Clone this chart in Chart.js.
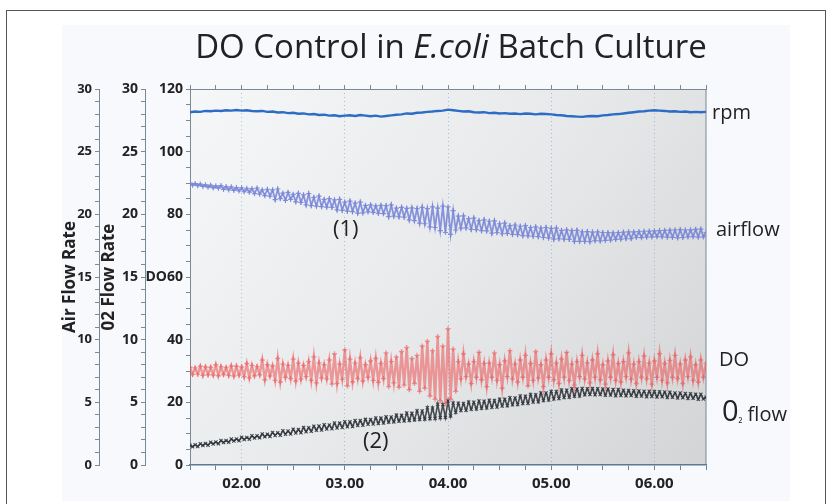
<!DOCTYPE html>
<html>
<head>
<meta charset="utf-8">
<script src="https://cdn.jsdelivr.net/npm/chart.js@4.4.1/dist/chart.umd.min.js"></script>
<style>
  body { margin: 0; background: #fff; }
  #wrap { position: relative; width: 833px; height: 504px; overflow: hidden; font-family: 'Open Sans', sans-serif; color: #222; }
  #frame { position: absolute; left: 6px; top: 10px; width: 818px; height: 520px; border: 1.5px solid #555; }
  #panel { position: absolute; left: 62px; top: 25px; width: 728px; height: 476px; background: #f7f9fc; }
  #myChart { position: absolute; left: 0; top: 0; }
  .lbl { position: absolute; white-space: nowrap; line-height: 1; }
  #title { position: absolute; left: 150px; width: 602px; top: 26px; text-align: center; font-size: 33px; line-height: 40px; }
</style>
</head>
<body>
<div id="wrap">
  <div id="frame"></div>
  <div id="panel"></div>
  <canvas id="myChart" width="833" height="504"></canvas>
  <div id="title">DO Control in <i>E.coli</i> Batch Culture</div>
  <div class="lbl" style="left:712px;top:102px;font-size:20px">rpm</div>
  <div class="lbl" style="left:716px;top:219px;font-size:20px">airflow</div>
  <div class="lbl" style="left:719px;top:349px;font-size:20px">DO</div>
  <div class="lbl" style="left:722px;top:395px;font-size:29px">0<span style="font-size:11px">₂</span><span style="font-size:20px"> flow</span></div>
  <div class="lbl" style="left:333px;top:216px;font-size:22px">(1)</div>
  <div class="lbl" style="left:363px;top:428px;font-size:22px">(2)</div>
</div>
<script>
// hourly axis, samples every 3 min for rpm and every 1.5 min for the noisy signals
let times = [
  1.50, 1.55, 1.60, 1.65, 1.70, 1.75, 1.80, 1.85, 1.90, 1.95,
  2.00, 2.05, 2.10, 2.15, 2.20, 2.25, 2.30, 2.35, 2.40, 2.45,
  2.50, 2.55, 2.60, 2.65, 2.70, 2.75, 2.80, 2.85, 2.90, 2.95,
  3.00, 3.05, 3.10, 3.15, 3.20, 3.25, 3.30, 3.35, 3.40, 3.45,
  3.50, 3.55, 3.60, 3.65, 3.70, 3.75, 3.80, 3.85, 3.90, 3.95,
  4.00, 4.05, 4.10, 4.15, 4.20, 4.25, 4.30, 4.35, 4.40, 4.45,
  4.50, 4.55, 4.60, 4.65, 4.70, 4.75, 4.80, 4.85, 4.90, 4.95,
  5.00, 5.05, 5.10, 5.15, 5.20, 5.25, 5.30, 5.35, 5.40, 5.45,
  5.50, 5.55, 5.60, 5.65, 5.70, 5.75, 5.80, 5.85, 5.90, 5.95,
  6.00, 6.05, 6.10, 6.15, 6.20, 6.25, 6.30, 6.35, 6.40, 6.45,
  6.50
];

let fineTimes = [
  1.500, 1.525, 1.550, 1.575, 1.600, 1.625, 1.650, 1.675, 1.700, 1.725,
  1.750, 1.775, 1.800, 1.825, 1.850, 1.875, 1.900, 1.925, 1.950, 1.975,
  2.000, 2.025, 2.050, 2.075, 2.100, 2.125, 2.150, 2.175, 2.200, 2.225,
  2.250, 2.275, 2.300, 2.325, 2.350, 2.375, 2.400, 2.425, 2.450, 2.475,
  2.500, 2.525, 2.550, 2.575, 2.600, 2.625, 2.650, 2.675, 2.700, 2.725,
  2.750, 2.775, 2.800, 2.825, 2.850, 2.875, 2.900, 2.925, 2.950, 2.975,
  3.000, 3.025, 3.050, 3.075, 3.100, 3.125, 3.150, 3.175, 3.200, 3.225,
  3.250, 3.275, 3.300, 3.325, 3.350, 3.375, 3.400, 3.425, 3.450, 3.475,
  3.500, 3.525, 3.550, 3.575, 3.600, 3.625, 3.650, 3.675, 3.700, 3.725,
  3.750, 3.775, 3.800, 3.825, 3.850, 3.875, 3.900, 3.925, 3.950, 3.975,
  4.000, 4.025, 4.050, 4.075, 4.100, 4.125, 4.150, 4.175, 4.200, 4.225,
  4.250, 4.275, 4.300, 4.325, 4.350, 4.375, 4.400, 4.425, 4.450, 4.475,
  4.500, 4.525, 4.550, 4.575, 4.600, 4.625, 4.650, 4.675, 4.700, 4.725,
  4.750, 4.775, 4.800, 4.825, 4.850, 4.875, 4.900, 4.925, 4.950, 4.975,
  5.000, 5.025, 5.050, 5.075, 5.100, 5.125, 5.150, 5.175, 5.200, 5.225,
  5.250, 5.275, 5.300, 5.325, 5.350, 5.375, 5.400, 5.425, 5.450, 5.475,
  5.500, 5.525, 5.550, 5.575, 5.600, 5.625, 5.650, 5.675, 5.700, 5.725,
  5.750, 5.775, 5.800, 5.825, 5.850, 5.875, 5.900, 5.925, 5.950, 5.975,
  6.000, 6.025, 6.050, 6.075, 6.100, 6.125, 6.150, 6.175, 6.200, 6.225,
  6.250, 6.275, 6.300, 6.325, 6.350, 6.375, 6.400, 6.425, 6.450, 6.475,
  6.500
];

// stirrer speed, plotted on the DO scale
let rpm = [
  112.6, 112.8, 112.7, 113.0, 112.9, 113.1, 113.0, 113.2, 113.1, 113.3,
  113.1, 113.2, 113.0, 112.9, 113.0, 112.7, 112.8, 112.5, 112.6, 112.3,
  112.4, 112.1, 112.2, 111.9, 112.0, 111.7, 111.8, 111.5, 111.6, 111.3,
  111.5, 111.6, 111.4, 111.7, 111.5, 111.3, 111.5, 111.2, 111.4, 111.6,
  111.8, 111.9, 112.2, 112.1, 112.4, 112.5, 112.7, 112.8, 113.0, 113.1,
  113.4, 113.2, 113.0, 112.8, 112.9, 112.6, 112.5, 112.6, 112.3, 112.4,
  112.2, 112.3, 112.1, 112.2, 112.0, 112.2, 112.1, 111.9, 112.1, 112.0,
  111.9, 111.7, 111.6, 111.4, 111.3, 111.2, 111.1, 111.3, 111.4, 111.3,
  111.6, 111.7, 111.9, 112.0, 112.2, 112.4, 112.6, 112.8, 112.9, 113.1,
  113.2, 113.1, 113.0, 112.8, 112.9, 112.7, 112.8, 112.6, 112.7, 112.6,
  112.7
];

// air flow rate (Air Flow Rate axis)
let airflow = [
  22.50, 22.32, 22.46, 22.28, 22.42, 22.22, 22.36, 22.16, 22.33, 22.10,
  22.28, 22.08, 22.30, 21.98, 22.22, 21.95, 22.20, 21.90, 22.14, 21.86,
  22.12, 21.80, 22.08, 21.76, 22.05, 21.66, 22.10, 21.62, 21.95, 21.50,
  22.00, 21.45, 21.95, 21.18, 22.02, 21.25, 21.70, 21.12, 21.75, 21.20,
  21.60, 21.00, 21.68, 20.95, 21.55, 20.75, 21.65, 20.70, 21.35, 20.65,
  21.45, 20.62, 21.20, 20.58, 21.25, 20.55, 21.15, 20.35, 21.20, 20.32,
  20.98, 20.25, 21.05, 20.22, 20.90, 20.10, 20.98, 20.12, 20.72, 20.20,
  20.76, 20.15, 20.68, 20.08, 20.72, 20.05, 20.70, 19.82, 20.75, 19.85,
  20.50, 19.80, 20.56, 19.78, 20.48, 19.55, 20.52, 19.50, 20.45, 19.30,
  20.55, 19.25, 20.45, 19.00, 20.60, 18.95, 20.50, 18.70, 20.65, 18.55,
  20.60, 18.40, 20.30, 18.75, 19.85, 18.90, 19.88, 18.92, 19.65, 18.80,
  19.70, 18.78, 19.50, 18.70, 19.55, 18.68, 19.45, 18.50, 19.48, 18.55,
  19.25, 18.45, 19.30, 18.48, 19.10, 18.40, 19.15, 18.38, 19.05, 18.30,
  19.10, 18.28, 18.95, 18.25, 19.00, 18.22, 18.90, 18.15, 18.95, 18.12,
  18.88, 18.02, 18.90, 18.05, 18.72, 18.02, 18.76, 18.00, 18.70, 17.85,
  18.72, 17.85, 18.60, 17.85, 18.62, 17.82, 18.58, 17.90, 18.60, 17.88,
  18.55, 17.92, 18.54, 17.95, 18.52, 18.00, 18.55, 18.02, 18.58, 18.05,
  18.60, 18.06, 18.60, 18.15, 18.62, 18.14, 18.65, 18.18, 18.66, 18.20,
  18.68, 18.22, 18.70, 18.20, 18.72, 18.18, 18.74, 18.16, 18.75, 18.12,
  18.78, 18.15, 18.75, 18.20, 18.76, 18.22, 18.80, 18.18, 18.82, 18.20,
  18.55
];

// dissolved oxygen (DO axis)
let dissolvedO2 = [
  31.2, 28.9, 31.0, 29.0, 31.5, 28.6, 31.3, 28.8, 31.2, 28.7,
  32.0, 28.5, 31.4, 28.9, 31.1, 28.6, 31.6, 28.4, 31.5, 28.7,
  31.3, 28.2, 32.4, 27.8, 31.8, 28.5, 31.4, 28.8, 33.5, 27.2,
  32.0, 28.4, 31.6, 27.0, 34.0, 26.5, 32.2, 28.0, 31.8, 27.6,
  33.8, 26.8, 32.5, 27.4, 31.8, 28.2, 33.0, 27.0, 34.5, 26.2,
  32.6, 27.8, 32.0, 27.5, 33.5, 25.8, 35.5, 26.0, 32.2, 27.4,
  36.8, 25.2, 33.8, 26.5, 32.5, 27.6, 34.2, 26.8, 32.0, 28.0,
  33.2, 27.0, 34.0, 26.4, 32.4, 27.6, 35.8, 25.0, 33.0, 26.2,
  34.5, 24.8, 36.2, 25.5, 37.5, 24.0, 34.0, 26.0, 35.0, 23.5,
  38.0, 24.5, 39.5, 22.0, 36.5, 21.0, 41.0, 20.5, 38.0, 19.5,
  43.5, 21.0, 37.0, 23.5, 33.0, 27.5, 35.5, 28.2, 32.2, 26.0,
  33.0, 28.0, 36.0, 27.2, 32.4, 25.0, 32.5, 28.0, 35.8, 27.0,
  32.0, 24.5, 33.2, 28.2, 36.5, 27.5, 32.2, 26.5, 33.5, 28.0,
  35.0, 25.2, 32.4, 27.0, 36.2, 27.8, 32.0, 25.0, 33.5, 28.0,
  35.5, 27.2, 32.5, 26.0, 33.8, 28.0, 36.0, 27.0, 32.2, 25.5,
  33.0, 28.2, 35.0, 27.5, 32.6, 26.2, 33.5, 28.0, 35.5, 27.2,
  32.0, 25.8, 33.2, 28.0, 35.2, 27.0, 32.4, 26.5, 33.0, 28.2,
  35.8, 27.4, 32.2, 26.0, 33.0, 28.0, 34.8, 27.5, 32.5, 25.8,
  33.2, 28.0, 35.5, 27.0, 32.4, 26.2, 33.4, 28.0, 35.0, 27.6,
  32.2, 26.0, 33.5, 28.2, 34.5, 27.0, 32.0, 26.5, 33.5, 28.0,
  32.5
];

// pure oxygen flow rate (02 Flow Rate axis)
let o2flow = [
  1.58, 1.46, 1.62, 1.48, 1.70, 1.56, 1.72, 1.58, 1.82, 1.68,
  1.84, 1.70, 1.95, 1.80, 1.96, 1.82, 2.07, 1.92, 2.08, 1.94,
  2.22, 2.03, 2.20, 2.06, 2.34, 2.15, 2.33, 2.17, 2.48, 2.25,
  2.46, 2.28, 2.60, 2.36, 2.58, 2.38, 2.74, 2.46, 2.72, 2.48,
  2.86, 2.56, 2.84, 2.58, 3.00, 2.66, 2.98, 2.70, 3.10, 2.78,
  3.12, 2.80, 3.22, 2.88, 3.20, 2.90, 3.35, 2.96, 3.34, 3.00,
  3.45, 3.06, 3.44, 3.08, 3.55, 3.16, 3.54, 3.18, 3.64, 3.25,
  3.62, 3.28, 3.75, 3.32, 3.74, 3.35, 3.84, 3.42, 3.83, 3.44,
  3.98, 3.50, 3.96, 3.52, 4.14, 3.56, 4.12, 3.60, 4.32, 3.64,
  4.30, 3.66, 4.56, 3.70, 4.55, 3.72, 4.85, 3.78, 4.82, 3.80,
  5.10, 3.92, 4.95, 4.20, 4.92, 4.34, 4.90, 4.36, 5.02, 4.44,
  5.00, 4.46, 5.10, 4.52, 5.08, 4.54, 5.16, 4.60, 5.15, 4.62,
  5.25, 4.70, 5.24, 4.72, 5.36, 4.80, 5.34, 4.82, 5.50, 4.90,
  5.48, 4.92, 5.62, 5.02, 5.60, 5.04, 5.75, 5.15, 5.74, 5.18,
  5.87, 5.27, 5.86, 5.30, 5.98, 5.38, 5.96, 5.40, 6.08, 5.48,
  6.06, 5.50, 6.10, 5.60, 6.09, 5.62, 6.10, 5.60, 6.08, 5.62,
  6.07, 5.57, 6.06, 5.58, 6.03, 5.53, 6.02, 5.55, 5.96, 5.52,
  5.95, 5.54, 5.92, 5.48, 5.91, 5.50, 5.89, 5.45, 5.88, 5.47,
  5.86, 5.42, 5.85, 5.44, 5.82, 5.38, 5.81, 5.40, 5.75, 5.35,
  5.74, 5.37, 5.70, 5.30, 5.69, 5.32, 5.65, 5.25, 5.64, 5.27,
  5.40
];

let axisColor = '#7b8994';
let tickFont = { family: 'Open Sans', size: 14, weight: 'bold' };

function pts(t, values) {
    return t.map((x, i) => ({ x: x, y: values[i] }));
}

// gray shaded plot area with a thin frame on the right
const plotBackground = {
    id: 'plotBackground',
    beforeDraw(chart) {
        const { ctx, chartArea: a } = chart;
        const g = ctx.createLinearGradient(a.left, a.top, a.right, a.bottom);
        g.addColorStop(0, '#f6f7f9');
        g.addColorStop(0.5, '#e8e9eb');
        g.addColorStop(1, '#d3d4d6');
        ctx.save();
        ctx.fillStyle = g;
        ctx.fillRect(a.left, a.top, a.right - a.left, a.bottom - a.top);
        ctx.strokeStyle = axisColor;
        ctx.lineWidth = 1;
        ctx.beginPath();
        ctx.moveTo(a.right, a.top);
        ctx.lineTo(a.right, a.bottom);
        ctx.stroke();
        ctx.restore();
    }
};

function leftAxis(max, weight, width, title, fontSize) {
    return {
        type: 'linear',
        position: 'left',
        weight: weight,
        min: 0,
        max: max,
        afterFit: (scale) => { scale.width = width; },
        border: { color: axisColor, width: 1 },
        grid: { drawOnChartArea: false, tickLength: 4, tickColor: axisColor },
        ticks: {
            stepSize: 1,
            autoSkip: false,
            padding: 3,
            color: '#222',
            font: { family: 'Open Sans', size: fontSize, weight: 'bold' },
            callback: (v) => v % 5 === 0 ? v : ''
        },
        title: {
            display: true,
            text: title,
            color: '#222',
            padding: { top: 0, bottom: 0 },
            font: { family: 'Open Sans', size: 17, weight: 'bold' }
        }
    };
}

let ctx = document.getElementById('myChart').getContext('2d');

let myChart = new Chart(ctx, {
    type: 'line',
    data: {
        datasets: [{
                label: 'rpm',
                data: pts(times, rpm),
                yAxisID: 'y',
                borderColor: '#2d6cc4',
                borderWidth: 2.4,
                pointRadius: 0,
            },
            {
                label: 'airflow',
                data: pts(fineTimes, airflow),
                yAxisID: 'yAir',
                borderColor: 'rgba(118,132,214,0.85)',
                borderWidth: 1.8,
                pointStyle: 'cross',
                pointRadius: 2.6,
                pointBorderWidth: 1.2,
            },
            {
                label: 'DO',
                data: pts(fineTimes, dissolvedO2),
                yAxisID: 'y',
                borderColor: 'rgba(236,80,80,0.55)',
                borderWidth: 2.4,
                pointStyle: 'cross',
                pointRadius: 2.5,
                pointBorderWidth: 1.4,
            },
            {
                label: 'O2 flow',
                data: pts(fineTimes, o2flow),
                yAxisID: 'yO2',
                borderColor: 'rgba(45,50,56,0.85)',
                borderWidth: 1.6,
                pointStyle: 'crossRot',
                pointRadius: 2.3,
                pointBorderWidth: 1.1,
            },
        ],
    },
    options: {
        responsive: false,
        animation: false,
        events: [],
        elements: {
            line: { tension: 0 }
        },
        layout: {
            padding: { left: 60, right: 127, top: 89, bottom: 0 }
        },
        scales: {
            x: {
                type: 'linear',
                position: 'bottom',
                min: 1.5,
                max: 6.5,
                afterFit: (scale) => { scale.height = 39; },
                border: { color: '#5f7a8e', width: 1.5, dash: [1, 3] },
                grid: {
                    color: (c) => c.tick && c.tick.value % 1 === 0 && c.tick.value > 1.5 ? 'rgba(110,160,205,0.6)' : 'transparent',
                    tickColor: '#6b8394',
                    tickLength: 5,
                },
                ticks: {
                    stepSize: 0.25,
                    autoSkip: false,
                    maxRotation: 0,
                    padding: 5,
                    color: '#222',
                    font: { family: 'Open Sans', size: 15, weight: 'bold' },
                    callback: (v) => v % 1 === 0 ? '0' + v + '.00' : ''
                }
            },
            xTop: {
                type: 'linear',
                position: 'top',
                min: 1.5,
                max: 6.5,
                afterFit: (scale) => { scale.height = 0; },
                border: { color: axisColor, width: 1 },
                grid: { drawOnChartArea: false, tickLength: 4, tickColor: axisColor },
                ticks: { display: false, stepSize: 0.25, autoSkip: false }
            },
            y: {
                type: 'linear',
                position: 'left',
                weight: 0,
                min: 0,
                max: 120,
                afterFit: (scale) => { scale.width = 45; },
                border: { color: axisColor, width: 1 },
                grid: { drawOnChartArea: false, tickLength: 4, tickColor: axisColor },
                ticks: {
                    stepSize: 5,
                    autoSkip: false,
                    padding: 3,
                    color: '#222',
                    font: tickFont,
                    callback: (v) => v % 20 === 0 ? (v === 60 ? 'DO60' : v) : ''
                }
            },
            yO2: leftAxis(30, 1, 46, '02 Flow Rate', 14),
            yAir: leftAxis(30, 2, 39, 'Air Flow Rate', 13),
        },
        plugins: {
            legend: { display: false },
            tooltip: { enabled: false }
        },
    },
    plugins: [plotBackground]
});
</script>
</body>
</html>
